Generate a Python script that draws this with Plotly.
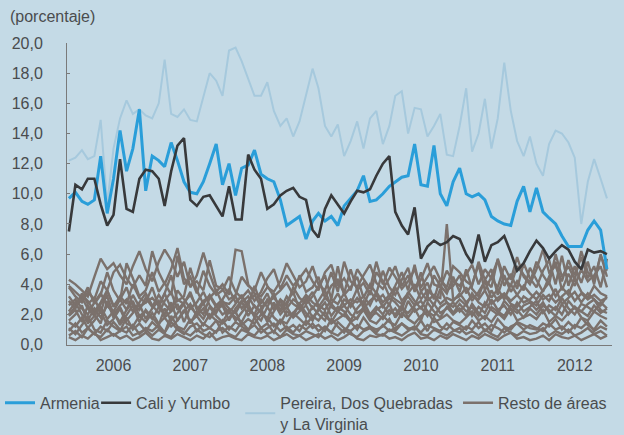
import pandas as pd
import plotly.graph_objects as go

# Monthly observations, Dec 2005 - Dec 2012 (85 points)
months = pd.date_range("2005-12-01", periods=85, freq="MS")

armenia = [9.7,
    10.1, 9.5, 9.3, 9.6, 12.5, 8.7, 11.0, 14.2, 11.5, 13.0, 15.6, 10.2,
    12.5, 12.2, 11.8, 13.4, 12.2, 10.8, 10.1, 10.0, 10.8, 12.0, 13.3, 10.6,
    12.0, 9.9, 11.7, 11.9, 12.9, 11.3, 11.0, 10.8, 9.6, 7.9, 8.2, 8.5,
    7.0, 8.2, 8.7, 8.2, 8.5, 7.9, 9.2, 9.7, 10.2, 11.2, 9.5, 9.6,
    10.0, 10.5, 10.8, 11.1, 11.2, 13.3, 10.6, 10.5, 13.2, 10.0, 9.2, 10.8,
    11.7, 10.0, 9.8, 10.0, 9.6, 8.5, 8.2, 8.0, 7.9, 9.5, 10.5, 8.8,
    10.4, 8.8, 8.4, 8.0, 7.2, 6.5, 6.5, 6.5, 7.6, 8.2, 7.6, 5.0]

cali_yumbo = [7.5,
    10.6, 10.3, 11.0, 11.0, 9.3, 7.9, 8.6, 12.3, 9.0, 8.8, 11.0, 11.6,
    11.5, 11.0, 9.2, 11.5, 13.2, 13.7, 9.6, 9.2, 9.8, 9.9, 9.2, 8.5,
    10.5, 8.3, 8.3, 12.6, 11.6, 11.0, 9.0, 9.3, 9.9, 10.2, 10.4, 9.8,
    9.6, 7.6, 7.1, 9.0, 9.9, 9.3, 8.7, 9.5, 10.2, 10.1, 10.3, 11.2,
    12.0, 12.5, 8.8, 7.9, 7.3, 9.1, 5.7, 6.5, 6.9, 6.6, 6.8, 7.2,
    7.0, 6.0, 5.4, 7.3, 5.5, 6.6, 6.8, 7.2, 6.1, 4.9, 5.4, 6.2,
    6.9, 6.4, 5.7, 6.2, 6.6, 6.3, 5.5, 5.0, 6.3, 6.1, 6.2, 6.0]

pereira = [12.2,
    12.4, 12.9, 12.3, 12.5, 14.9, 9.3, 13.0, 15.0, 16.2, 15.3, 15.6, 15.2,
    15.0, 16.0, 18.9, 15.3, 15.1, 15.6, 14.9, 14.8, 16.5, 18.0, 17.5, 16.5,
    19.5, 19.7, 18.8, 17.6, 16.5, 16.5, 17.4, 15.5, 14.5, 15.0, 13.8, 14.8,
    16.5, 18.3, 17.0, 14.5, 13.8, 14.6, 12.5, 13.5, 14.8, 13.0, 15.0, 15.5,
    13.3, 14.5, 16.5, 16.8, 14.0, 15.7, 15.6, 13.8, 14.5, 15.3, 12.6, 12.5,
    14.5, 17.0, 12.8, 14.0, 16.3, 13.0, 15.0, 18.7, 15.5, 13.5, 12.5, 13.8,
    12.0, 11.2, 13.3, 14.2, 14.0, 13.4, 12.4, 8.0, 10.8, 12.3, 11.0, 9.7]

resto = [
    [4.3,
     4.0, 3.6, 3.2, 4.5, 5.7, 5.0, 5.4, 4.6, 4.0, 5.2, 6.2, 5.0,
     4.2, 5.5, 6.3, 5.6, 4.5, 5.5, 3.8, 4.6, 6.1, 4.7, 3.5, 4.0,
     3.3, 6.3, 6.2, 4.0, 3.4, 3.2, 3.8, 3.5, 4.2, 5.4, 4.6, 3.8,
     4.2, 5.2, 4.0, 3.6, 4.8, 3.5, 5.5, 4.2, 3.8, 4.6, 5.3, 4.1,
     3.7, 4.4, 5.2, 3.9, 4.6, 3.6, 4.3, 5.4, 4.0, 3.8, 4.9, 4.2,
     3.9, 4.6, 5.3, 4.0, 5.0, 4.4, 3.8, 5.2, 4.3, 5.8, 4.5, 4.0,
     5.0, 6.3, 4.8, 5.2, 4.2, 5.6, 4.6, 5.8, 4.4, 5.2, 3.8, 5.7],
    [3.8,
     3.2, 2.8, 3.5, 3.0, 4.2, 3.6, 4.8, 5.3, 4.4, 3.8, 4.6, 3.9,
     6.2, 4.8, 4.0, 5.0, 6.4, 4.4, 3.9, 4.2, 3.6, 5.6, 3.9, 3.7,
     3.0, 3.3, 4.5, 3.9, 3.6, 4.8, 3.9, 3.2, 3.6, 4.1, 3.3, 4.6,
     3.5, 3.8, 4.5, 3.1, 3.9, 4.3, 3.4, 5.0, 3.6, 4.1, 3.3, 4.8,
     4.2, 3.2, 3.9, 4.8, 3.6, 5.3, 3.5, 4.1, 3.0, 4.4, 3.6, 3.9,
     4.6, 3.4, 4.0, 5.3, 3.6, 4.5, 5.6, 3.9, 4.7, 3.7, 5.4, 4.4,
     3.8, 4.9, 5.6, 4.0, 5.9, 3.9, 5.2, 4.1, 5.5, 4.0, 6.0, 4.5],
    [2.6,
     3.0, 2.4, 2.0, 2.8, 3.4, 2.6, 2.2, 3.0, 3.8, 2.6, 2.3, 3.1,
     2.5, 3.3, 2.7, 2.2, 3.6, 3.0, 2.4, 2.8, 3.5, 2.6, 2.1, 2.9,
     2.4, 2.1, 2.8, 3.2, 2.5, 2.2, 3.0, 2.6, 2.3, 3.2, 2.7, 2.4,
     2.9, 3.5, 2.6, 2.3, 3.0, 2.7, 3.4, 2.5, 3.1, 2.6, 3.6, 2.9,
     3.3, 2.6, 3.8, 2.9, 3.4, 4.0, 3.0, 3.6, 3.2, 3.1, 8.0, 3.0,
     3.2, 3.8, 2.9, 3.5, 4.2, 3.1, 3.7, 3.0, 4.0, 3.3, 3.9, 3.4,
     3.0, 3.6, 4.1, 3.2, 3.8, 3.3, 4.4, 3.5, 3.1, 3.9, 3.4, 3.2],
    [3.2,
     2.6, 3.3, 2.9, 2.2, 2.8, 3.6, 2.5, 3.2, 2.7, 4.0, 3.1, 2.8,
     3.8, 2.5, 3.4, 4.6, 2.9, 3.2, 5.1, 3.6, 2.7, 3.3, 2.6, 3.0,
     3.7, 2.8, 3.2, 2.6, 3.9, 2.7, 3.4, 2.3, 3.0, 2.6, 3.8, 3.1,
     2.7, 3.2, 3.9, 4.6, 3.0, 5.2, 3.3, 3.8, 4.5, 3.1, 4.0, 3.4,
     4.9, 3.8, 3.3, 4.3, 5.1, 3.5, 4.8, 3.2, 4.6, 3.9, 3.4, 4.5,
     3.5, 5.0, 3.7, 3.2, 4.3, 5.0, 3.3, 4.6, 3.5, 4.2, 3.6, 5.1,
     4.3, 3.5, 4.5, 5.5, 3.6, 4.7, 3.9, 5.0, 4.2, 4.6, 5.2, 3.8],
    [2.2,
     2.8, 2.0, 1.6, 2.4, 1.8, 2.6, 2.1, 1.5, 2.3, 2.9, 1.9, 2.2,
     1.7, 2.5, 2.0, 2.8, 1.6, 2.2, 2.7, 1.9, 2.4, 1.8, 2.6, 2.0,
     2.3, 1.6, 2.1, 2.7, 1.8, 2.4, 1.5, 2.2, 2.9, 1.9, 2.1, 2.6,
     1.8, 2.5, 2.0, 1.6, 2.7, 2.2, 1.9, 2.8, 2.1, 2.4, 1.7, 2.3,
     2.6, 2.0, 2.4, 1.8, 2.9, 2.2, 2.5, 1.9, 2.7, 2.1, 2.4, 2.8,
     2.2, 2.7, 1.9, 2.5, 2.1, 3.0, 2.3, 2.6, 2.0, 2.8, 2.2, 2.5,
     2.9, 2.1, 2.6, 2.3, 3.1, 2.4, 2.0, 2.7, 2.5, 2.2, 2.8, 2.4],
    [1.5,
     1.2, 1.8, 1.1, 1.6, 2.2, 1.3, 1.7, 2.4, 1.4, 1.2, 1.9, 1.5,
     2.1, 1.4, 1.8, 1.2, 1.6, 2.3, 1.5, 1.9, 1.3, 2.0, 1.6, 1.4,
     1.8, 2.2, 1.3, 1.7, 1.4, 2.0, 1.8, 1.2, 1.6, 1.4, 2.1, 1.7,
     1.3, 1.9, 1.6, 2.2, 1.4, 1.7, 2.0, 1.5, 1.8, 2.3, 1.6, 1.4,
     1.9, 1.5, 1.3, 2.1, 1.7, 1.4, 1.9, 2.2, 1.5, 1.7, 2.0, 1.6,
     1.4, 1.8, 2.2, 1.6, 1.9, 1.5, 2.1, 1.7, 2.4, 1.6, 1.8, 2.0,
     1.7, 2.3, 1.5, 1.9, 1.6, 2.1, 2.5, 1.8, 1.6, 2.2, 1.9, 1.7],
    [0.9,
     1.4, 0.8, 1.1, 0.7, 1.2, 0.9, 1.5, 1.0, 0.8, 1.3, 0.7, 1.1,
     0.9, 1.3, 0.8, 1.5, 1.0, 0.7, 1.2, 1.4, 0.9, 1.1, 1.6, 0.8,
     1.2, 0.9, 1.5, 1.0, 1.3, 0.8, 1.1, 1.4, 0.9, 1.2, 0.8, 1.3,
     1.0, 1.4, 0.9, 1.2, 0.8, 1.5, 1.1, 0.9, 1.3, 1.0, 1.2, 0.8,
     1.3, 0.9, 1.1, 1.4, 1.0, 1.2, 0.8, 1.3, 1.1, 0.9, 1.4, 1.0,
     0.8, 1.2, 1.0, 1.5, 0.9, 1.3, 1.1, 0.8, 1.2, 1.4, 1.0, 1.3,
     1.1, 0.9, 1.4, 1.0, 1.2, 0.8, 1.3, 1.1, 1.5, 0.9, 1.2, 1.0],
    [0.5,
     0.3, 0.6, 0.4, 0.8, 0.3, 0.5, 0.7, 0.4, 0.6, 0.3, 0.5, 0.8,
     0.4, 0.3, 0.6, 0.4, 0.7, 0.5, 0.3, 0.6, 0.4, 0.8, 0.3, 0.5,
     0.6, 0.4, 0.3, 0.7, 0.5, 0.4, 0.6, 0.3, 0.5, 0.7, 0.4, 0.6,
     0.3, 0.5, 0.7, 0.4, 0.6, 0.3, 0.5, 0.8, 0.4, 0.3, 0.6, 0.5,
     0.7, 0.4, 0.5, 0.3, 0.6, 0.8, 0.4, 0.5, 0.3, 0.6, 0.4, 0.7,
     0.5, 0.3, 0.6, 0.4, 0.7, 0.5, 0.3, 0.6, 0.8, 0.4, 0.5, 0.3,
     0.4, 0.6, 0.3, 0.7, 0.5, 0.4, 0.6, 0.3, 0.5, 0.7, 0.4, 0.6],
    [3.9,
     3.5, 3.1, 2.4, 1.9, 2.7, 3.2, 2.0, 2.6, 3.0, 2.2, 2.8, 3.4,
     2.6, 2.1, 2.9, 3.5, 2.3, 2.8, 3.3, 2.5, 2.0, 3.1, 3.6, 2.7,
     2.1, 2.7, 3.3, 2.4, 2.0, 3.0, 2.5, 3.4, 2.2, 2.8, 3.5, 2.3,
     3.1, 2.4, 2.9, 3.6, 2.5, 2.2, 3.0, 2.7, 3.7, 2.4, 2.9, 3.3,
     2.5, 3.1, 2.8, 2.3, 3.5, 2.9, 2.4, 3.2, 2.6, 3.7, 2.8, 2.5,
     3.0, 2.6, 3.4, 2.8, 2.5, 3.6, 2.9, 3.3, 2.7, 2.5, 3.2, 2.9,
     2.6, 3.3, 2.9, 3.7, 2.7, 3.1, 3.5, 2.8, 3.4, 3.0, 2.6, 3.2],
    [2.0,
     2.5, 3.0, 3.8, 2.7, 3.3, 4.8, 3.6, 2.9, 5.4, 4.4, 3.2, 3.6,
     4.8, 3.5, 4.1, 3.3, 5.9, 4.0, 4.5, 3.4, 4.9, 3.9, 3.3, 3.6,
     4.5, 3.5, 3.1, 3.6, 2.9, 3.5, 4.4, 5.0, 3.7, 4.6, 3.9, 4.4,
     5.0, 4.2, 3.6, 4.8, 5.3, 3.9, 4.4, 3.6, 5.0, 4.4, 3.7, 5.5,
     4.0, 5.1, 4.5, 3.7, 4.2, 5.0, 3.8, 4.5, 5.2, 4.3, 3.8, 5.2,
     4.8, 4.2, 3.9, 5.5, 4.3, 3.8, 5.7, 4.4, 3.9, 5.2, 4.6, 4.1,
     5.5, 4.6, 4.0, 6.0, 4.5, 5.2, 4.3, 6.2, 4.8, 4.3, 5.9, 4.9],
    [1.9,
     2.3, 1.5, 2.6, 2.0, 1.4, 2.9, 1.8, 2.5, 1.6, 2.1, 2.7, 1.7,
     2.4, 2.9, 1.8, 2.2, 2.7, 1.5, 2.5, 2.0, 2.8, 1.7, 2.3, 2.6,
     1.6, 2.4, 2.9, 1.9, 2.6, 2.1, 1.7, 2.8, 2.0, 2.5, 1.8, 2.2,
     2.6, 1.8, 2.3, 2.8, 1.9, 2.5, 2.2, 1.6, 2.4, 2.9, 2.0, 2.5,
     2.0, 2.7, 1.8, 2.4, 2.1, 2.6, 2.9, 2.2, 1.9, 2.5, 2.8, 2.1,
     2.7, 2.2, 2.5, 1.9, 2.8, 2.3, 2.0, 2.9, 2.4, 2.1, 2.6, 2.8,
     2.3, 2.8, 2.1, 2.5, 2.0, 2.9, 2.4, 2.2, 2.7, 3.0, 2.3, 2.1],
    [1.1,
     0.7, 1.3, 1.9, 1.0, 0.8, 1.6, 1.2, 0.9, 1.8, 1.0, 1.4, 0.9,
     1.5, 1.1, 0.8, 1.9, 1.2, 1.0, 1.7, 0.9, 1.4, 1.1, 0.8, 1.6,
     1.0, 1.5, 1.2, 0.9, 1.8, 1.1, 1.4, 0.8, 1.7, 1.0, 1.3, 0.9,
     1.6, 1.1, 1.3, 0.9, 1.7, 1.2, 0.8, 1.5, 1.0, 1.8, 1.2, 1.0,
     1.2, 1.7, 0.9, 1.4, 1.1, 1.0, 1.6, 0.9, 1.8, 1.2, 1.0, 1.5,
     1.3, 1.0, 1.6, 1.1, 1.4, 0.9, 1.7, 1.2, 1.0, 1.5, 1.3, 1.1,
     1.0, 1.4, 1.2, 1.7, 1.0, 1.5, 1.1, 1.8, 1.3, 1.0, 1.6, 1.2],
    [1.6,
     2.0, 2.6, 1.4, 1.9, 2.5, 1.7, 2.2, 1.3, 2.0, 2.6, 1.5, 2.3,
     1.8, 1.3, 2.4, 1.6, 2.1, 2.7, 1.4, 2.2, 1.7, 2.5, 1.9, 1.5,
     2.2, 1.8, 1.5, 2.3, 2.0, 1.6, 2.5, 1.8, 1.4, 2.2, 1.9, 2.7,
     2.1, 1.6, 2.4, 1.9, 1.5, 2.2, 2.6, 2.0, 1.7, 2.5, 1.9, 2.1,
     1.7, 2.3, 2.0, 2.6, 1.8, 2.4, 1.6, 2.8, 2.2, 1.8, 2.5, 2.0,
     2.4, 1.9, 2.7, 2.1, 1.7, 2.5, 2.2, 1.9, 2.6, 2.3, 1.8, 2.4,
     2.0, 2.6, 2.3, 1.9, 2.7, 2.0, 2.5, 2.2, 1.9, 2.6, 2.1, 2.4],
    [0.6,
     0.9, 0.5, 1.1, 0.7, 0.5, 1.0, 0.6, 0.9, 1.2, 0.6, 0.8, 1.0,
     0.6, 1.0, 0.7, 0.5, 1.1, 0.8, 0.6, 1.0, 0.7, 0.5, 0.9, 1.1,
     0.7, 0.5, 1.0, 0.8, 0.6, 1.1, 0.7, 0.9, 0.5, 1.0, 0.7, 0.6,
     0.9, 0.7, 0.5, 1.1, 0.8, 0.6, 1.0, 0.7, 0.5, 0.9, 1.1, 0.7,
     0.6, 1.0, 0.8, 0.6, 0.9, 1.2, 0.7, 0.6, 1.0, 0.8, 0.6, 0.9,
     1.1, 0.7, 0.9, 0.6, 1.0, 0.7, 0.5, 1.1, 0.8, 0.6, 0.9, 0.7,
     0.8, 1.1, 0.6, 0.9, 0.7, 1.0, 0.6, 0.8, 1.1, 0.7, 0.9, 0.6],
    [2.9,
     2.4, 3.4, 2.7, 3.1, 2.1, 3.6, 2.6, 3.0, 2.3, 3.3, 2.5, 2.8,
     3.1, 2.6, 3.4, 2.4, 3.0, 2.7, 3.5, 2.3, 2.9, 3.2, 2.5, 2.8,
     2.7, 3.2, 2.4, 2.9, 3.3, 2.5, 2.8, 3.1, 2.6, 2.4, 3.0, 2.7,
     3.3, 2.8, 2.5, 3.1, 2.7, 3.4, 2.6, 3.0, 2.8, 3.2, 2.6, 3.5,
     2.8, 3.3, 3.0, 2.7, 3.2, 2.6, 3.5, 2.9, 3.3, 2.7, 3.1, 2.9,
     3.4, 2.8, 3.2, 3.0, 3.6, 2.7, 3.1, 3.4, 2.9, 3.3, 2.8, 3.0,
     3.5, 3.0, 3.3, 2.8, 3.2, 3.6, 2.9, 3.4, 3.0, 3.3, 2.9, 3.1],
]

year_labels = ["2006", "2007", "2008", "2009", "2010", "2011", "2012"]
year_ticks = [f"{y}-07-01" for y in year_labels]
y_ticks = [0, 2, 4, 6, 8, 10, 12, 14, 16, 18, 20]
y_tick_text = ["0,0", "2,0", "4,0", "6,0", "8,0", "10,0", "12,0", "14,0", "16,0", "18,0", "20,0"]

BG = "#c4dae6"
TXT = "#4a4c4e"
C_ARM = "#2a9ed9"
C_CALI = "#38393b"
C_PER = "#a6c9dd"
C_RESTO = "#7b716c"
FONT = "Liberation Sans, Arial, sans-serif"
FS = 16

fig = go.Figure()
for i, s in enumerate(resto):
    fig.add_trace(go.Scatter(x=months, y=s, mode="lines", name="Resto de áreas",
                             line=dict(color=C_RESTO, width=2.4),
                             showlegend=(i == 0), legend="legend4"))
fig.add_trace(go.Scatter(x=months, y=pereira, mode="lines",
                         name="Pereira, Dos Quebradas<br>y La Virginia",
                         line=dict(color=C_PER, width=2), showlegend=True,
                         legend="legend3"))
fig.add_trace(go.Scatter(x=months, y=armenia, mode="lines", name="Armenia",
                         line=dict(color=C_ARM, width=3), showlegend=True,
                         legend="legend"))
fig.add_trace(go.Scatter(x=months, y=cali_yumbo, mode="lines", name="Cali y Yumbo",
                         line=dict(color=C_CALI, width=2.6), showlegend=True,
                         legend="legend2"))

leg_common = dict(orientation="h", xref="container", yref="container",
                  xanchor="left", yanchor="top", y=0.113,
                  bgcolor="rgba(0,0,0,0)",
                  font=dict(family=FONT, size=FS, color=TXT),
                  itemwidth=30)

fig.update_layout(
    width=624, height=435,
    showlegend=True,
    paper_bgcolor=BG, plot_bgcolor=BG,
    margin=dict(l=66, r=12, t=43, b=80),
    font=dict(family=FONT, size=FS, color=TXT),
    title=dict(text="(porcentaje)", x=0.016, xref="container", xanchor="left",
               y=0.963, yref="container", yanchor="middle",
               font=dict(family=FONT, size=FS, color=TXT)),
    legend=dict(x=0.0, **leg_common),
    legend2=dict(x=0.154, **leg_common),
    legend3=dict(x=0.385, **leg_common),
    legend4=dict(x=0.734, **leg_common),
    xaxis=dict(range=["2005-11-22", "2012-12-25"], tickvals=year_ticks,
               ticktext=year_labels, showgrid=False, zeroline=False,
               showline=True, linecolor="#7a7a7a", linewidth=1, ticks="",
               tickfont=dict(family=FONT, size=FS, color=TXT), ticklabelstandoff=6),
    yaxis=dict(range=[0, 20], tickvals=y_ticks, ticktext=y_tick_text,
               showgrid=False, zeroline=False, showline=True,
               linecolor="#7a7a7a", linewidth=1, ticks="inside", ticklen=3,
               tickcolor="#7a7a7a",
               tickfont=dict(family=FONT, size=FS, color=TXT), ticklabelstandoff=20),
)

fig.write_html(
    "out.html",
    config={"displayModeBar": False},
    post_script=("document.body.style.margin='0';"
                 "document.body.style.background='" + BG + "';"),
)
